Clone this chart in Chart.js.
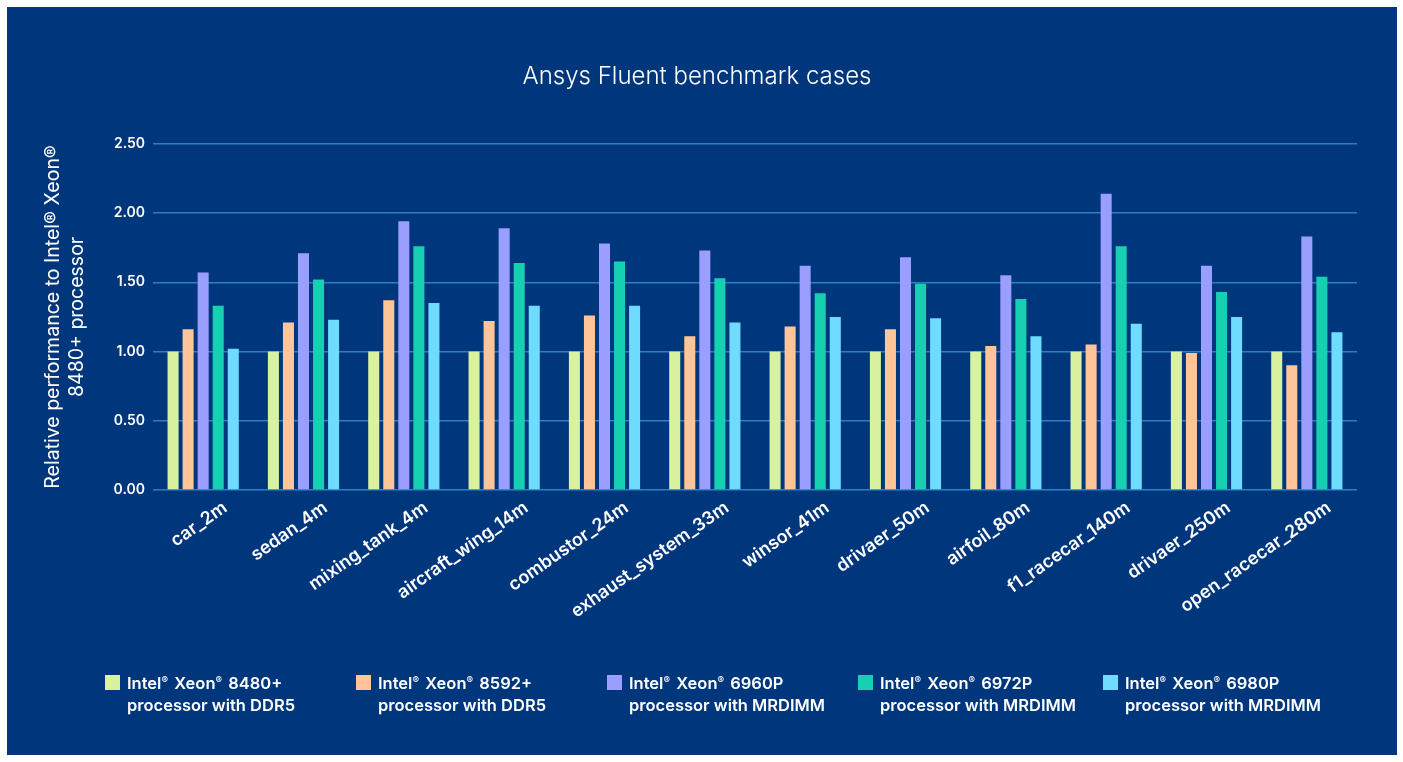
<!DOCTYPE html>
<html>
<head>
<meta charset="utf-8">
<script src="https://cdn.jsdelivr.net/npm/chart.js@4.4.1/dist/chart.umd.min.js"></script>
<style>
  html, body { margin: 0; padding: 0; background: #ffffff; }
  body { width: 1403px; height: 762px; position: relative; overflow: hidden; font-family: Inter, "Open Sans", sans-serif; }
  #panel { position: absolute; left: 7px; top: 7px; width: 1390px; height: 748px; background: #00377c; }
  #chartBox { position: absolute; left: 0; top: 0; width: 1390px; height: 748px; }
  #legend { position: absolute; left: 98px; top: 666px; display: grid; grid-template-columns: 251px 251px 251px 245px auto; }
  .item { display: flex; align-items: flex-start; }
  .swatch { width: 15px; height: 15px; margin-top: 2px; margin-right: 7px; flex: none; }
  .txt { color: #ffffff; font-size: 16.5px; font-weight: 600; line-height: 20px; letter-spacing: 0px; white-space: nowrap; }
  .txt sup { font-size: 0.6em; vertical-align: 0; position: relative; top: -0.55em; margin: 0 2px 0 0; font-weight: 500; }
</style>
</head>
<body>
<div id="panel">
  <div id="chartBox"><canvas id="c"></canvas></div>
  <div id="legend"></div>
</div>
<script>
const categories = ['car_2m','sedan_4m','mixing_tank_4m','aircraft_wing_14m','combustor_24m','exhaust_system_33m','winsor_41m','drivaer_50m','airfoil_80m','f1_racecar_140m','drivaer_250m','open_racecar_280m'];

const xeon8480 = [1.00, 1.00, 1.00, 1.00, 1.00, 1.00, 1.00, 1.00, 1.00, 1.00, 1.00, 1.00];
const xeon8592 = [1.16, 1.21, 1.37, 1.22, 1.26, 1.11, 1.18, 1.16, 1.04, 1.05, 0.99, 0.90];
const xeon6960 = [1.57, 1.71, 1.94, 1.89, 1.78, 1.73, 1.62, 1.68, 1.55, 2.14, 1.62, 1.83];
const xeon6972 = [1.33, 1.52, 1.76, 1.64, 1.65, 1.53, 1.42, 1.49, 1.38, 1.76, 1.43, 1.54];
const xeon6980 = [1.02, 1.23, 1.35, 1.33, 1.33, 1.21, 1.25, 1.24, 1.11, 1.20, 1.25, 1.14];

const seriesNames = [
  ['Intel® Xeon® 8480+', 'processor with DDR5'],
  ['Intel® Xeon® 8592+', 'processor with DDR5'],
  ['Intel® Xeon® 6960P', 'processor with MRDIMM'],
  ['Intel® Xeon® 6972P', 'processor with MRDIMM'],
  ['Intel® Xeon® 6980P', 'processor with MRDIMM']
];
const yTicks = ['0.00', '0.50', '1.00', '1.50', '2.00', '2.50'];

const titleText = 'Ansys Fluent benchmark cases';
const yTitle = ['Relative performance to Intel® Xeon®', '8480+ processor'];

const colors = ['#d9f2a0', '#ffc599', '#999eff', '#17cfb1', '#6fdbff'];
const seriesValues = [xeon8480, xeon8592, xeon6960, xeon6972, xeon6980];

const datasets = seriesValues.map((vals, i) => ({
  label: seriesNames[i].join(' '),
  data: vals,
  backgroundColor: colors[i],
  borderWidth: 0,
  categoryPercentage: 0.75,
  barPercentage: 0.733
}));

const FONT = 'Inter, "Open Sans", sans-serif';

new Chart(document.getElementById('c'), {
  type: 'bar',
  data: { labels: categories, datasets },
  options: {
    responsive: true,
    maintainAspectRatio: false,
    animation: false,
    layout: { padding: { left: 30, right: 40, top: 0, bottom: 115 } },
    plugins: {
      legend: { display: false },
      tooltip: { enabled: false },
      title: {
        display: true,
        text: titleText,
        color: '#ffffff',
        font: { family: FONT, size: 24, weight: 300, lineHeight: 1.2 },
        padding: { top: 55, bottom: 53 }
      }
    },
    scales: {
      x: {
        grid: { display: false, drawTicks: false },
        border: { display: false },
        ticks: {
          color: '#ffffff',
          font: { family: FONT, size: 18, weight: 600 },
          minRotation: 35,
          maxRotation: 35,
          autoSkip: false,
          labelOffset: 22,
          padding: 7
        },
        afterFit: (s) => { s.height = 150; }
      },
      y: {
        min: 0,
        max: 2.5,
        grid: { color: '#2d7fc1', lineWidth: 1.5, drawTicks: false },
        border: { display: false },
        ticks: {
          stepSize: 0.5,
          color: '#ffffff',
          padding: 8,
          font: { family: FONT, size: 14, weight: 600 },
          callback: (v, i) => yTicks[i]
        },
        title: {
          display: true,
          text: yTitle,
          color: '#ffffff',
          font: { family: FONT, size: 19.5, weight: 400, lineHeight: 1.23 },
          padding: { top: 4, bottom: 0 }
        },
        afterFit: (s) => { s.width = 116; }
      }
    }
  }
});

const legend = document.getElementById('legend');
seriesNames.forEach((lines, i) => {
  const item = document.createElement('div');
  item.className = 'item';
  const sw = document.createElement('div');
  sw.className = 'swatch';
  sw.style.background = colors[i];
  const tx = document.createElement('div');
  tx.className = 'txt';
  tx.innerHTML = lines.map(l => l.replace(/®/g, '<sup>®</sup>')).join('<br>');
  item.appendChild(sw);
  item.appendChild(tx);
  legend.appendChild(item);
});
</script>
</body>
</html>
